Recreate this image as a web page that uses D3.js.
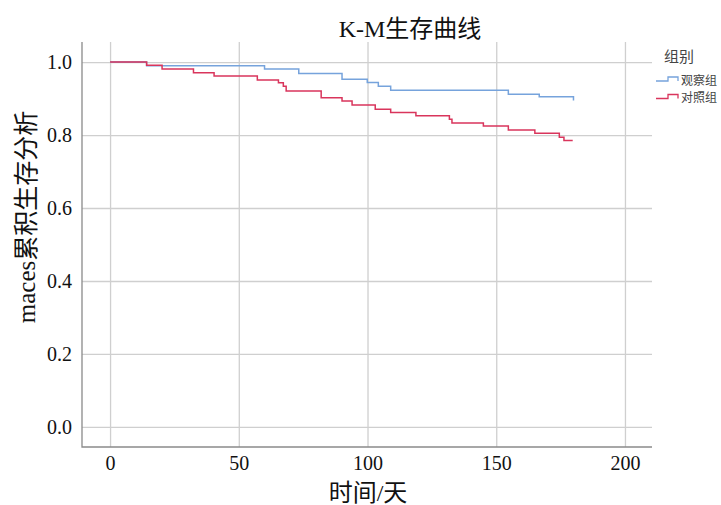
<!DOCTYPE html>
<html>
<head>
<meta charset="utf-8">
<script src="https://cdn.jsdelivr.net/npm/d3@7"></script>
<style>
  body { margin: 0; background: #fff; }
  .chart text { font-family: 'Liberation Serif', 'Noto Sans CJK SC', serif; fill: #111; }
  .legend text { font-family: 'Noto Sans CJK SC', sans-serif; fill: #444; }
</style>
</head>
<body>
<div class="chart"></div>
<script>
// K-M survival steps
var groupNames = ['观察组', '对照组'];
var obsTimes = [0, 14.2, 60, 73.3, 90.1, 99.9, 104.2, 109, 154.7, 166.7, 180];
var obsSurv = [1, 0.99, 0.981, 0.969, 0.953, 0.944, 0.934, 0.923, 0.912, 0.905, 0.895];
var ctlTimes = [0, 14.2, 20.2, 32.4, 40.4, 57.2, 65.4, 67.3, 68.4, 82, 90.1, 94, 103, 109, 118.8, 131.8, 132.8, 145, 154.7, 165, 174.5, 176.3, 179.7];
var ctlSurv = [1, 0.991, 0.981, 0.971, 0.962, 0.951, 0.943, 0.934, 0.921, 0.902, 0.893, 0.882, 0.871, 0.862, 0.853, 0.843, 0.833, 0.825, 0.814, 0.805, 0.794, 0.785, 0.785];
var xTicks = [0, 50, 100, 150, 200];
var yTicks = [0, 0.2, 0.4, 0.6, 0.8, 1.0];

var width = 721,
  height = 505;
var plotL = 82, plotR = 652, plotT = 42, plotB = 447;
var colors = ['#76a3dc', '#d9355c'];

var svg = d3
  .select('.chart')
  .append('svg')
  .attr('width', width)
  .attr('height', height);

var xScale = d3.scaleLinear().domain([-10.9, 210.5]).range([plotL, plotR]);
var yScale = d3.scaleLinear().domain([-0.055, 1.055]).range([plotB, plotT]);

// grid lines
svg
  .append('g')
  .attr('transform', 'translate(0,' + plotB + ')')
  .call(d3.axisBottom(xScale).tickValues(xTicks).tickSize(-(plotB - plotT)).tickFormat(''))
  .call((g) => g.select('.domain').remove())
  .selectAll('line')
  .attr('stroke', '#cfcfcf')
  .attr('stroke-width', 1.3);

svg
  .append('g')
  .attr('transform', 'translate(' + plotL + ',0)')
  .call(d3.axisLeft(yScale).tickValues(yTicks).tickSize(-(plotR - plotL)).tickFormat(''))
  .call((g) => g.select('.domain').remove())
  .selectAll('line')
  .attr('stroke', '#cfcfcf')
  .attr('stroke-width', 1.3);

// tick labels
var xAxis = svg
  .append('g')
  .attr('transform', 'translate(0,' + plotB + ')')
  .call(d3.axisBottom(xScale).tickValues(xTicks).tickSize(0).tickPadding(9).tickFormat(d3.format('d')));
xAxis.select('.domain').remove();
xAxis.selectAll('text').style('font-size', '20px').style('font-family', 'Liberation Serif').attr('fill', '#111');

var yAxis = svg
  .append('g')
  .attr('transform', 'translate(' + plotL + ',0)')
  .call(d3.axisLeft(yScale).tickValues(yTicks).tickSize(0).tickPadding(10).tickFormat(d3.format('.1f')));
yAxis.select('.domain').remove();
yAxis.selectAll('text').style('font-size', '20px').style('font-family', 'Liberation Serif').attr('fill', '#111');

// axis lines (left and bottom only)
svg
  .append('path')
  .attr('d', 'M' + plotL + ',' + plotT + 'V' + plotB + 'H' + plotR)
  .attr('fill', 'none')
  .attr('stroke', '#8a8a8a')
  .attr('stroke-width', 1.3);

// curves
var line = d3
  .line()
  .x((d) => xScale(d[0]))
  .y((d) => yScale(d[1]))
  .curve(d3.curveStepAfter);

var series = [
  d3.zip(obsTimes, obsSurv),
  d3.zip(ctlTimes, ctlSurv)
];

series.forEach((s, i) => {
  svg
    .append('path')
    .datum(s)
    .attr('d', line)
    .attr('fill', 'none')
    .attr('stroke', colors[i])
    .attr('stroke-width', 1.5);
});

// titles
svg
  .append('text')
  .attr('x', 410)
  .attr('y', 37)
  .attr('text-anchor', 'middle')
  .style('font-size', '24px')
  .text('K-M生存曲线');

svg
  .append('text')
  .attr('x', 368)
  .attr('y', 501)
  .attr('text-anchor', 'middle')
  .style('font-size', '24px')
  .text('时间/天');

svg
  .append('text')
  .attr('transform', 'translate(35,' + 217 + ') rotate(-90)')
  .attr('text-anchor', 'middle')
  .style('font-size', '25px')
  .text('maces累积生存分析');

// legend
var legend = svg.append('g').attr('class', 'legend');
legend
  .append('text')
  .attr('x', 679)
  .attr('y', 62)
  .attr('text-anchor', 'middle')
  .style('font-size', '15px')
  .text('组别');

groupNames.forEach((name, i) => {
  var y = 80 + i * 17.5;
  legend
    .append('path')
    .attr('d', 'M656,' + (y + 1) + 'H668V' + (y - 3) + 'H678V' + (y + 1))
    .attr('fill', 'none')
    .attr('stroke', colors[i])
    .attr('stroke-width', 1.3);
  legend
    .append('text')
    .attr('x', 681)
    .attr('y', y + 4.5)
    .style('font-size', '12px')
    .text(name);
});
</script>
</body>
</html>
